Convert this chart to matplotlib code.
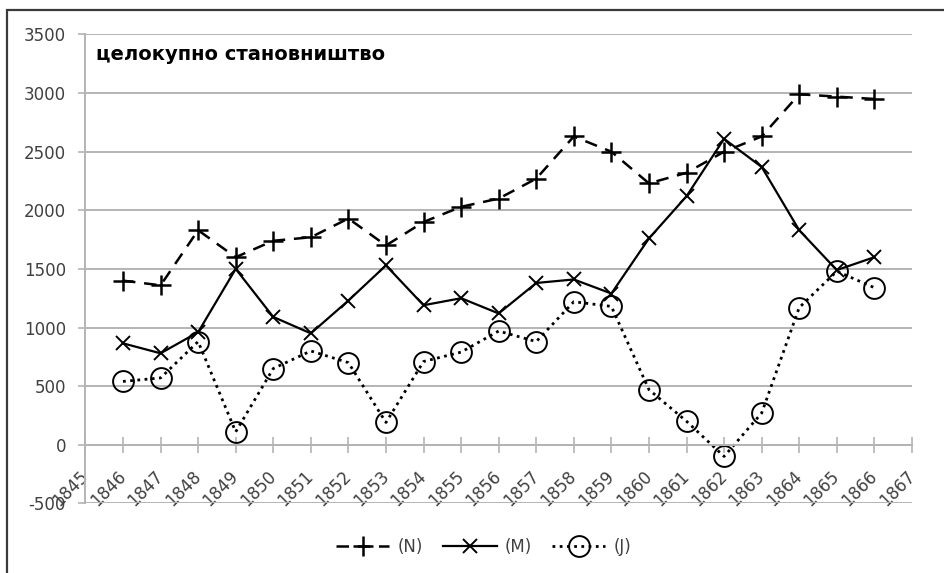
import matplotlib
matplotlib.use("Agg")
import matplotlib.pyplot as plt
from matplotlib.patches import Rectangle

# data
years = list(range(1846, 1867))
n_vals = [1400, 1360, 1830, 1600, 1740, 1770, 1930, 1700, 1900, 2030, 2100,
          2270, 2630, 2500, 2230, 2320, 2500, 2630, 2990, 2970, 2950]
m_vals = [865, 780, 960, 1500, 1090, 950, 1230, 1530, 1190, 1250, 1120,
          1380, 1410, 1290, 1760, 2120, 2610, 2370, 1830, 1490, 1600]
j_vals = [540, 570, 880, 110, 650, 800, 700, 190, 710, 790, 970,
          880, 1220, 1180, 470, 200, -100, 270, 1170, 1480, 1340]
series_names = ["(N)", "(M)", "(J)"]
title_text = "целокупно становништво"
x_ticks = list(range(1845, 1868))
y_ticks = list(range(-500, 3501, 500))

grid_col = "#b4b4b4"
text_col = "#404040"

fig = plt.figure(figsize=(9.45, 5.73), dpi=100)
ax = fig.add_axes([0.0904, 0.1216, 0.8746, 0.8182])

# move the x axis to y=0 first (this resets the tick objects)
ax.spines["bottom"].set_position(("data", 0))

ax.plot(years, n_vals, color="black", lw=1.8, linestyle=(0, (5, 3.5)),
        marker="+", markersize=14, markeredgewidth=1.8, label=series_names[0])
ax.plot(years, m_vals, color="black", lw=1.6, linestyle="-",
        marker="x", markersize=10, markeredgewidth=1.4, label=series_names[1])
ax.plot(years, j_vals, color="black", lw=2.0, linestyle=(0, (1, 1.6)),
        marker="o", markersize=15, markerfacecolor="none",
        markeredgewidth=1.4, label=series_names[2])

ax.set_xlim(1845, 1867)
ax.set_ylim(-500, 3500)
ax.set_xticks(x_ticks)
ax.set_yticks(y_ticks)
ax.set_yticklabels([str(v) for v in y_ticks])
ax.set_xticklabels([str(v) for v in x_ticks], rotation=45, ha="right",
                   va="center", rotation_mode="anchor")

ax.grid(axis="y", color=grid_col, lw=1.4)
ax.set_axisbelow(True)
for s in ["top", "right"]:
    ax.spines[s].set_visible(False)
ax.spines["left"].set_color(grid_col)
ax.spines["left"].set_linewidth(1.4)
ax.spines["bottom"].set_color(grid_col)
ax.spines["bottom"].set_linewidth(1.4)

ax.tick_params(axis="y", length=5, width=1.2, color=grid_col, pad=9,
               labelsize=12, labelcolor=text_col)
ax.tick_params(axis="x", direction="inout", length=11, width=1.2,
               color=grid_col, pad=15, labelsize=12, labelcolor=text_col)

ax.text(0.013, 0.958, title_text, transform=ax.transAxes, fontsize=14,
        fontweight="bold", ha="left", va="center", color="black")

fig.legend(loc="center", bbox_to_anchor=(0.512, 0.045), ncol=3,
           frameon=False, fontsize=12, handlelength=3.2, columnspacing=1.2,
           handletextpad=0.5, labelcolor=text_col)

# outer chart border (cut off at right and bottom like the reference)
fig.add_artist(Rectangle((7 / 945, -0.1), 1.2, 0.9825 + 0.1,
                         transform=fig.transFigure, fill=False,
                         ec="#3a3a3a", lw=1.6))

fig.savefig("out.png", dpi=100)
